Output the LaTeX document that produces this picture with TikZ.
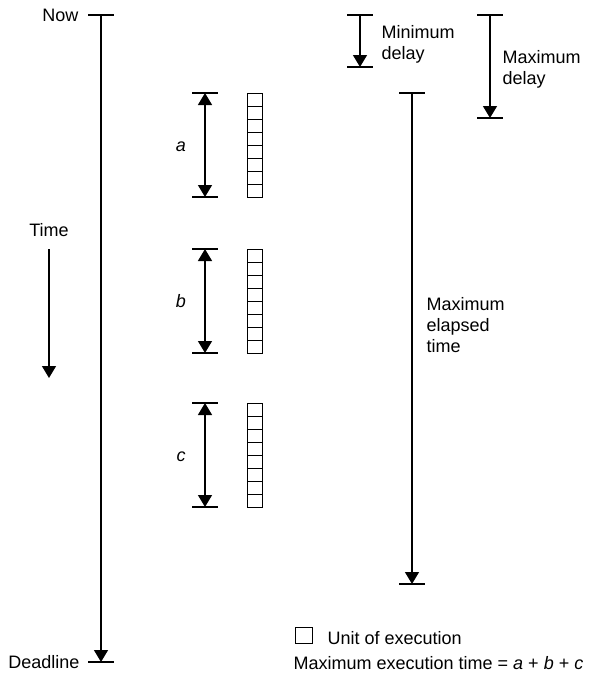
\documentclass[tikz,border=0pt]{standalone}
\usepackage{fontspec}
\setmainfont{Liberation Sans}
\usetikzlibrary{arrows.meta}
\begin{document}
\begin{tikzpicture}[x=1pt,y=-1pt,
  line width=1.3pt,
  tip/.tip={Triangle[width=14pt,length=12pt]},
  span/.style={-tip},
  dspan/.style={tip-tip},
  lbl/.style={font=\fontsize{18}{21}\selectfont, inner sep=0pt, anchor=base west},
  rlbl/.style={lbl, anchor=base east},
  pics/tickbar/.style={code={\draw[line width=1.3pt] (-13,0) -- (13,0);}}]
\useasboundingbox (0,0) rectangle (595,678);

% main time line: now -> deadline
\coordinate (now) at (101,15);
\coordinate (deadline) at (101,662);
\pic at (now) {tickbar};
\pic at (deadline) {tickbar};
\draw[span] (now) -- (deadline);
\node[rlbl] (nowlbl) at (79,21) {Now};
\node[rlbl] (deadlbl) at (80,668) {Deadline};

% direction of time
\node[lbl, anchor=base] (timelbl) at (49,236) {Time};
\coordinate (tstart) at (49,249);
\coordinate (tend) at (49,378);
\draw[span] (tstart) -- (tend);

% minimum delay
\coordinate (mintop) at (360,15);
\coordinate (minbot) at (360,67);
\pic at (mintop) {tickbar};
\pic at (minbot) {tickbar};
\draw[span] (mintop) -- (minbot);
\node[lbl] (minl1) at (381,38) {Minimum};
\node[lbl] (minl2) at (381,59) {delay};

% maximum delay
\coordinate (maxtop) at (490,15);
\coordinate (maxbot) at (490,118);
\pic at (maxtop) {tickbar};
\pic at (maxbot) {tickbar};
\draw[span] (maxtop) -- (maxbot);
\node[lbl] (maxl1) at (502,63) {Maximum};
\node[lbl] (maxl2) at (502,84) {delay};

% maximum elapsed time
\coordinate (eltop) at (412,93);
\coordinate (elbot) at (412,584);
\pic at (eltop) {tickbar};
\pic at (elbot) {tickbar};
\draw[span] (eltop) -- (elbot);
\node[lbl] (ell1) at (426,310) {Maximum};
\node[lbl] (ell2) at (426,331) {elapsed};
\node[lbl] (ell3) at (426,352) {time};

% execution intervals a, b, c with their units of execution
\foreach \name/\top in {a/93, b/249, c/403} {
  \coordinate (\name top) at (205,\top);
  \coordinate (\name bot) at (205,\top+104);
  \pic at (\name top) {tickbar};
  \pic at (\name bot) {tickbar};
  \draw[dspan] (\name top) -- (\name bot);
  \node[lbl, anchor=base] (\name lbl) at (181,\top+58) {\textit{\name}};
  \draw[line width=1pt] (247,\top) rectangle (262,\top+104);
  \foreach \k in {1,...,7}
    \draw[line width=1pt] (247,\top+13*\k) -- (262,\top+13*\k);
}

% legend
\draw[line width=1pt] (295,627) rectangle (312,643);
\node[lbl] (unitlbl) at (327,644) {Unit of execution};
\node[lbl] (sumlbl) at (293,669) {Maximum execution time = \textit{a} + \textit{b} + \textit{c}};
\end{tikzpicture}
\end{document}
